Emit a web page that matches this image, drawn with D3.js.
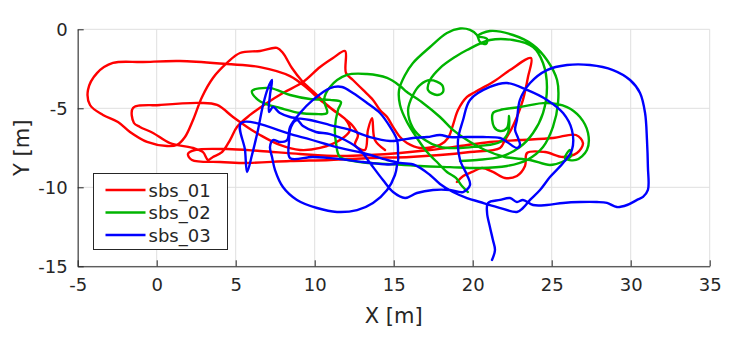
<!DOCTYPE html>
<html>
<head>
<meta charset="utf-8">
<title>trajectories</title>
<script src="https://cdn.jsdelivr.net/npm/d3@7"></script>
<style>
  body { margin: 0; background: #fff; }
  svg text { font-family: "DejaVu Sans", sans-serif; fill: #262626; }
  .grid line { stroke: #dfdfdf; stroke-width: 1; }
  .axis path, .axis line { stroke: #262626; }
</style>
</head>
<body>
<script>
// tick labels
var xTicks = [-5, 0, 5, 10, 15, 20, 25, 30, 35];
var yTicks = [0, -5, -10, -15];
var seriesNames = ["sbs_01", "sbs_02", "sbs_03"];

// trajectories [x, y] in metres
var sbs01 = [[19.0,-9.66],[19.4,-9.28],[19.96,-9.03],[20.59,-8.78],[21.28,-9.03],[22.04,-9.41],[22.8,-9.28],[23.31,-8.65],[23.44,-7.83],[24.58,-7.77],[25.72,-8.08],[26.6,-7.83],[26.98,-7.2],[26.54,-6.69],[25.08,-6.88],[22.99,-7.01],[21.09,-7.13],[19.2,-7.39],[17.3,-7.64],[15.4,-7.83],[13.5,-7.96],[11.6,-8.02],[9.07,-7.89],[6.54,-7.7],[4.45,-7.58],[2.42,-7.64],[1.98,-7.89],[2.23,-8.27],[4.01,-8.4],[5.46,-8.46],[8.44,-8.34],[10.97,-8.27],[13.5,-8.15],[16.03,-8.08],[17.93,-7.96],[19.83,-7.77],[21.73,-7.51],[22.04,-7.01],[22.42,-6.37],[22.8,-5.55],[23.18,-4.47],[23.5,-3.02],[23.69,-1.82],[22.36,-2.58],[21.28,-3.34],[20.15,-3.97],[19.64,-4.28],[19.07,-5.11],[18.75,-6.06],[18.44,-6.88],[17.93,-7.32],[16.66,-7.51],[15.84,-7.2],[15.4,-6.82],[14.96,-6.18],[14.58,-5.55],[14.13,-5.11],[13.69,-4.47],[13.06,-3.84],[12.42,-3.21],[11.98,-2.77],[11.92,-1.37],[11.16,-1.82],[10.34,-2.39],[9.26,-3.34],[7.99,-4.03],[6.98,-4.66],[5.91,-5.42],[5.08,-6.18],[4.64,-7.01],[4.13,-7.77],[3.56,-8.08],[3.25,-8.27],[2.93,-7.77],[2.3,-7.51],[0.84,-7.2],[-0.23,-6.56],[-1.06,-6.18],[-1.44,-5.93],[-1.5,-4.98],[0.21,-4.79],[2.74,-4.66],[3.82,-4.79],[4.83,-5.55],[5.72,-6.18],[6.54,-6.69],[7.8,-7.32],[9.07,-7.64],[10.34,-7.51],[11.6,-7.01],[12.23,-6.37],[11.98,-5.74],[11.16,-5.11],[10.34,-4.47],[9.51,-3.72],[8.44,-2.96],[6.54,-2.39],[4.45,-2.2],[1.47,-2.01],[-0.87,-2.07],[-2.77,-2.13],[-3.78,-2.77],[-4.35,-3.84],[-4.22,-4.79],[-3.4,-5.42],[-2.45,-5.87],[-1.69,-6.5],[-0.61,-7.13],[0.65,-7.39],[1.28,-7.32],[1.79,-6.82],[2.3,-5.74],[2.87,-4.28],[3.56,-3.08],[4.45,-2.13],[5.27,-1.5],[6.54,-1.37],[7.61,-1.18],[7.99,-1.5],[8.56,-2.45],[9.2,-3.27],[10.15,-4.16],[10.78,-4.79],[11.6,-5.42],[12.36,-6.06],[12.74,-6.69],[12.55,-7.32],[13.18,-7.64],[13.37,-6.37],[13.63,-5.62],[13.81,-7.01],[14.45,-7.64]];

var sbs02 = [[19.7,-10.3],[19.32,-9.92],[18.94,-9.41],[18.37,-9.03],[17.74,-8.4],[17.11,-7.77],[16.47,-6.88],[15.84,-5.87],[15.4,-4.79],[15.34,-3.84],[15.72,-2.89],[16.22,-2.13],[17.3,-1.12],[18.37,-0.23],[19.2,0.05],[19.83,-0.04],[20.27,-0.36],[20.46,-0.8],[20.84,-0.93],[20.91,-0.61],[20.34,-0.42],[21.09,-0.11],[22.55,-0.36],[23.82,-0.99],[24.7,-1.94],[25.34,-3.21],[25.4,-4.66],[25.08,-6.18],[24.45,-7.45],[23.44,-8.27],[22.17,-8.65],[20.46,-8.78],[18.56,-8.72],[16.66,-8.65],[14.77,-8.53],[12.87,-8.4],[11.6,-8.08],[11.35,-7.2],[11.28,-6.25],[11.47,-5.11],[11.66,-4.6],[10.97,-4.47],[9.7,-4.41],[8.44,-4.16],[7.17,-3.72],[6.03,-3.91],[6.41,-4.47],[6.92,-4.73],[7.8,-4.98],[9.07,-5.3],[10.02,-5.36],[10.78,-5.3],[10.59,-4.47],[10.97,-3.65],[12.04,-2.89],[13.31,-2.83],[14.58,-3.08],[15.4,-3.59],[15.84,-3.97],[16.85,-4.66],[17.93,-5.55],[18.75,-6.37],[19.64,-7.01],[20.78,-7.64],[22.04,-8.08],[23.63,-8.27],[24.89,-8.59],[25.65,-8.4],[26.22,-8.02],[26.16,-7.64],[25.84,-8.15],[26.54,-8.27],[27.23,-7.64],[27.3,-6.56],[26.79,-5.55],[25.97,-4.92],[24.7,-4.66],[22.99,-4.92],[21.73,-5.11],[21.28,-5.3],[21.35,-6.18],[21.73,-6.44],[22.17,-6.25],[22.3,-5.49],[22.23,-6.56],[21.73,-7.13],[20.46,-7.39],[19.2,-7.51],[17.93,-7.45],[16.98,-7.01],[16.22,-6.25],[15.91,-5.11],[16.22,-4.16],[16.66,-3.53],[17.3,-3.21],[18.06,-3.53],[18.12,-3.97],[17.74,-4.16],[17.17,-3.84],[17.3,-3.21],[17.93,-2.45],[18.88,-1.75],[19.64,-1.31],[21.09,-0.68],[22.55,-0.68],[23.82,-1.12],[24.45,-2.13],[24.7,-3.65],[24.45,-5.3],[23.82,-6.56],[22.99,-7.45],[21.73,-8.08],[20.27,-8.27],[19.2,-8.34]];

var sbs03 = [[21.22,-14.6],[21.41,-13.97],[21.28,-13.34],[21.09,-12.51],[20.91,-11.63],[20.97,-10.99],[21.73,-10.8],[22.36,-10.68],[22.8,-10.93],[23.18,-10.8],[23.82,-11.12],[24.7,-11.12],[25.72,-10.99],[26.79,-10.93],[27.87,-10.93],[28.5,-10.99],[29.13,-11.25],[29.77,-11.12],[30.4,-10.8],[30.78,-10.61],[31.09,-10.17],[31.09,-8.72],[31.03,-7.01],[30.91,-5.3],[30.59,-4.03],[29.96,-3.21],[28.88,-2.58],[27.42,-2.26],[25.97,-2.26],[24.7,-2.58],[23.63,-3.4],[22.99,-4.47],[22.8,-5.74],[22.68,-6.37],[22.87,-6.88],[22.99,-7.32],[22.8,-7.51],[22.17,-7.13],[21.73,-6.88],[20.65,-6.82],[19.64,-6.82],[18.56,-6.82],[17.93,-6.69],[17.11,-6.82],[16.22,-6.88],[15.4,-7.01],[14.77,-7.07],[13.5,-6.82],[12.23,-6.37],[10.97,-6.06],[9.7,-5.74],[8.44,-5.55],[7.8,-5.3],[7.36,-4.92],[7.11,-5.23],[7.17,-4.16],[7.3,-3.21],[7.04,-3.72],[6.73,-4.79],[6.41,-6.37],[6.03,-7.96],[5.72,-9.03],[5.59,-7.64],[5.34,-5.93],[8.88,-6.75],[11.6,-7.51],[13.06,-7.83],[14.58,-8.27],[15.4,-8.46],[16.35,-8.59],[17.3,-9.22],[17.93,-9.79],[18.75,-10.3],[19.64,-10.68],[20.46,-10.93],[21.54,-11.25],[22.8,-11.56],[23.18,-11.31],[23.63,-10.8],[24.26,-10.17],[24.89,-9.35],[25.72,-8.46],[26.28,-7.64],[26.28,-6.37],[25.72,-5.3],[24.7,-4.47],[23.44,-3.84],[22.17,-3.4],[21.09,-3.65],[19.83,-4.47],[19.39,-5.74],[19.07,-7.01],[19.2,-8.27],[19.64,-9.22],[19.83,-9.85],[19.39,-10.3],[18.56,-10.17],[17.49,-10.17],[16.47,-10.36],[15.72,-10.68],[14.96,-10.3],[14.32,-9.54],[13.5,-8.46],[12.87,-7.64],[11.92,-7.01],[10.97,-6.63],[10.08,-6.5],[9.26,-6.12],[8.88,-5.74],[8.5,-6.18],[8.37,-7.13],[8.44,-8.15],[9.89,-8.08],[11.6,-8.21],[13.06,-8.4],[15.21,-8.46],[15.27,-7.83],[15.21,-7.01],[14.77,-6.18],[14.13,-5.3],[13.31,-4.66],[12.42,-4.03],[11.73,-3.65],[10.97,-3.72],[9.89,-4.47],[9.07,-5.3],[8.44,-6.18],[8.25,-7.01],[7.8,-7.13],[7.36,-7.01],[7.17,-7.45],[7.3,-8.08],[7.49,-8.91],[7.99,-9.98],[8.88,-10.8],[10.15,-11.31],[11.41,-11.56],[12.68,-11.44],[13.69,-10.99],[14.58,-10.17],[15.08,-9.22],[15.21,-8.59]];

var colors = ["#ff0000", "#00b400", "#0000ff"];

var W = 750, H = 340;
var m = { left: 77.7, top: 29.3 };
var pw = 632, ph = 237;

var svg = d3.select("body").append("svg").attr("width", W).attr("height", H);

var x = d3.scaleLinear().domain([-5, 35]).range([m.left, m.left + pw]);
var y = d3.scaleLinear().domain([-15, 0]).range([m.top + ph, m.top]);

// grid
var grid = svg.append("g").attr("class", "grid");
grid.selectAll(".gx").data(xTicks).enter().append("line")
  .attr("x1", function(d) { return x(d); }).attr("x2", function(d) { return x(d); })
  .attr("y1", m.top).attr("y2", m.top + ph);
grid.selectAll(".gy").data(yTicks).enter().append("line")
  .attr("y1", function(d) { return y(d); }).attr("y2", function(d) { return y(d); })
  .attr("x1", m.left).attr("x2", m.left + pw);

// trajectories
var line = d3.line()
  .x(function(d) { return x(d[0]); })
  .y(function(d) { return y(d[1]); })
  .curve(d3.curveCatmullRom.alpha(0.5));

[sbs01, sbs02, sbs03].forEach(function(s, i) {
  svg.append("path").datum(s)
    .attr("d", line)
    .attr("fill", "none")
    .attr("stroke", colors[i])
    .attr("stroke-width", 2.4)
    .attr("stroke-linejoin", "round")
    .attr("stroke-linecap", "round");
});

// axes, ticks inside, plain hyphen for minus
var fmt = function(d) { return String(d); };
var xAxis = d3.axisBottom(x).tickValues(xTicks).tickFormat(fmt).tickSize(-6).tickPadding(12).tickSizeOuter(0);
var yAxis = d3.axisLeft(y).tickValues(yTicks).tickFormat(fmt).tickSize(-6).tickPadding(10).tickSizeOuter(0);

svg.append("g").attr("class", "axis")
  .attr("transform", "translate(0," + (m.top + ph) + ")").call(xAxis);
svg.append("g").attr("class", "axis")
  .attr("transform", "translate(" + m.left + ",0)").call(yAxis);
svg.selectAll(".axis text").attr("font-size", 18).style("font-family", "DejaVu Sans, sans-serif").attr("fill", "#262626");
svg.selectAll(".axis .domain").attr("stroke", "#262626");

svg.append("text").attr("x", x(15)).attr("y", 323)
  .attr("text-anchor", "middle").attr("font-size", 21).text("X [m]");
svg.append("text").attr("transform", "translate(29," + y(-7.5) + ") rotate(-90)")
  .attr("text-anchor", "middle").attr("font-size", 21).text("Y [m]");

// legend
var lg = svg.append("g").attr("transform", "translate(93.5,173.5)");
lg.append("rect").attr("width", 134).attr("height", 76)
  .attr("fill", "#fff").attr("stroke", "#262626").attr("stroke-width", 1);
seriesNames.forEach(function(n, i) {
  var yy = 16.5 + i * 22.5;
  lg.append("line").attr("x1", 12).attr("x2", 52).attr("y1", yy).attr("y2", yy)
    .attr("stroke", colors[i]).attr("stroke-width", 2.4);
  lg.append("text").attr("x", 55).attr("y", yy + 6.5).attr("font-size", 18).text(n);
});
</script>
</body>
</html>
